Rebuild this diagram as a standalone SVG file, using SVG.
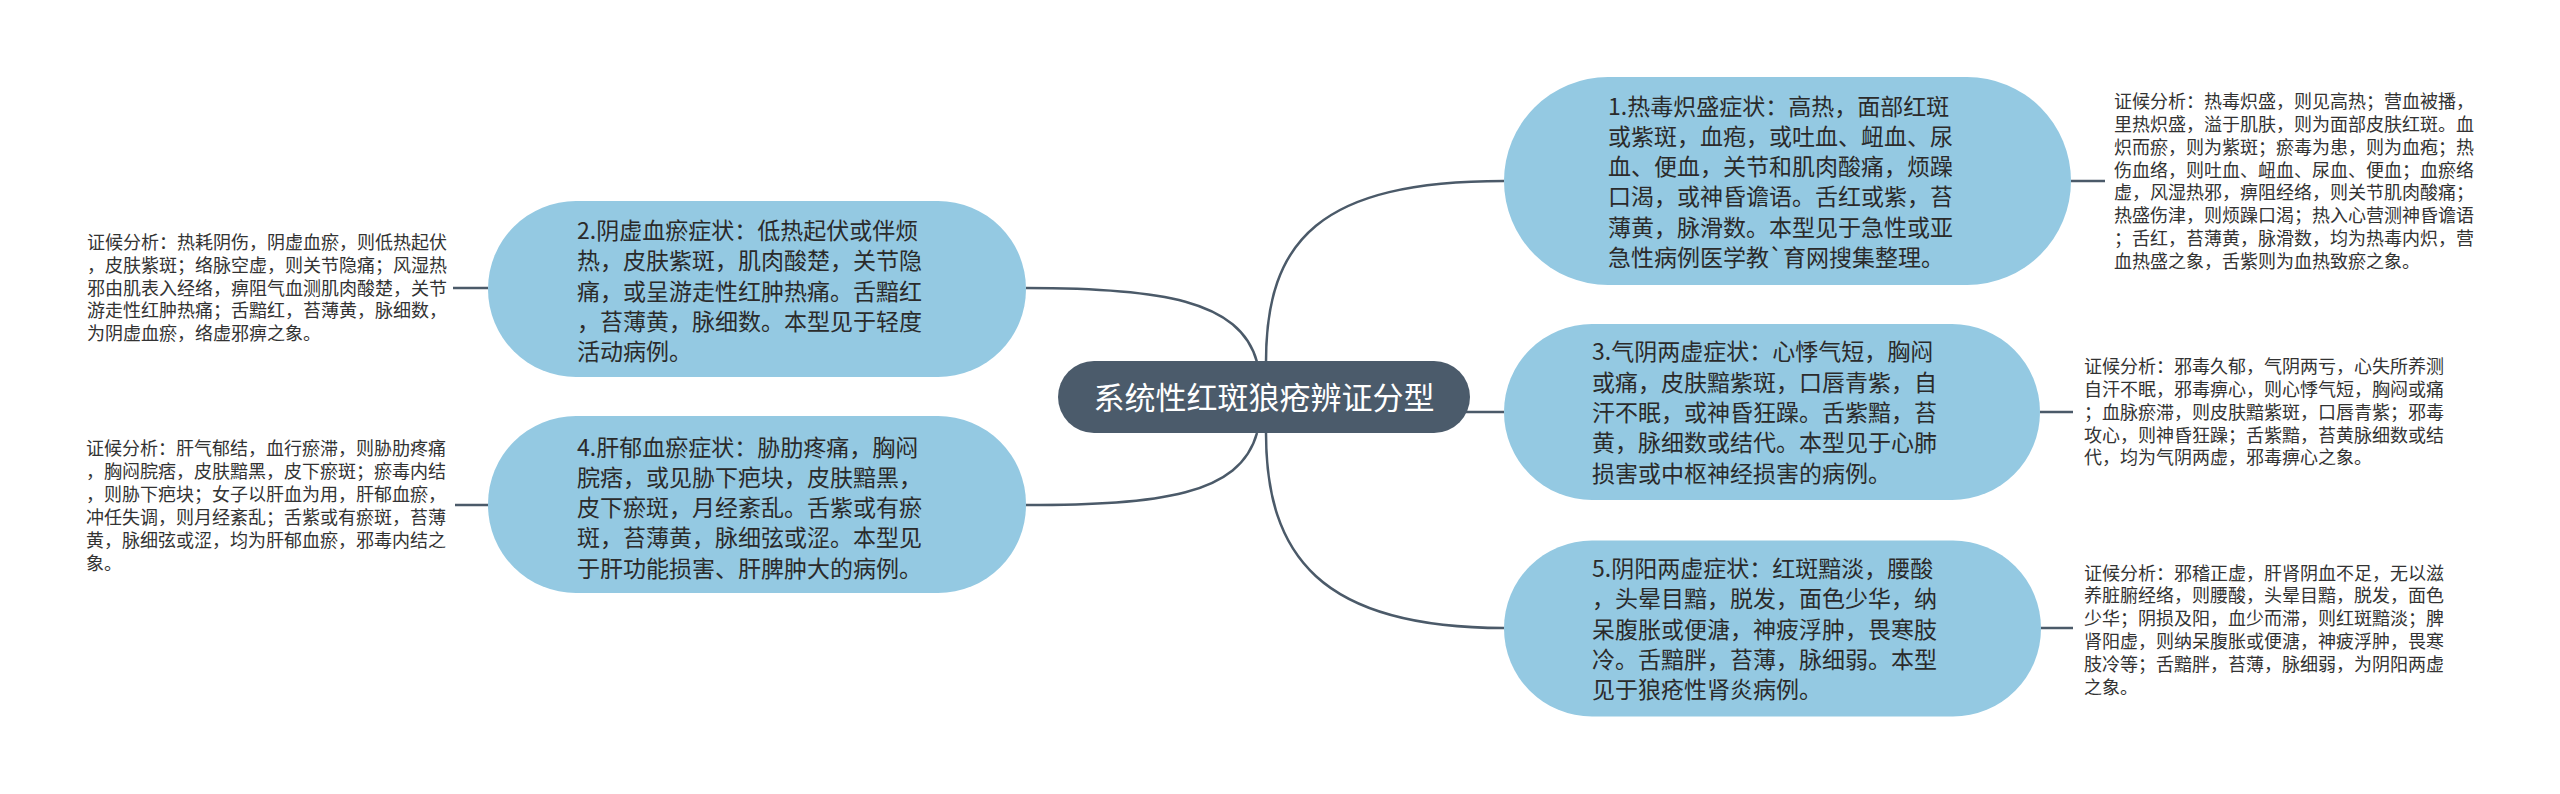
<svg xmlns="http://www.w3.org/2000/svg" width="2560" height="794" viewBox="0 0 2560 794">
<style>
.bg{fill:#ffffff}
.conn{fill:none;stroke:#4b5a69;stroke-width:2.5}
.pill{fill:#94c9e2}
.root{fill:#4b5b6b}
.rt{font-family:"Noto Sans CJK SC","Noto Sans",sans-serif;font-size:31px;fill:#ffffff;text-anchor:middle}
.nt{font-family:"Noto Sans CJK SC","Noto Sans",sans-serif;font-size:23px;fill:#2b2b2b}
.at{font-family:"Noto Sans CJK SC","Noto Sans",sans-serif;font-size:18px;fill:#333333}
</style>
<rect class="bg" x="0" y="0" width="2560" height="794"/>
<g id="connectors">
<path class="conn" d="M1266,362 C1266,240 1320,181 1504,181"/>
<path class="conn" d="M1266,433 C1266,555 1320,628 1504,628"/>
<path class="conn" d="M1257,362 C1240,300 1160,288 1026,288"/>
<path class="conn" d="M1257,433 C1240,495 1160,505 1026,505"/>
<path class="conn" d="M1460,412 L1504,412"/>
<path class="conn" d="M2071,181 L2105,181"/>
<path class="conn" d="M2040,412 L2073,412"/>
<path class="conn" d="M2041,628 L2073,628"/>
<path class="conn" d="M453,288 L488,288"/>
<path class="conn" d="M455,505 L488,505"/>
</g>
<g id="root">
<rect class="root" x="1058" y="361" width="412" height="72" rx="36"/>
<text class="rt" x="1264" y="409">系统性红斑狼疮辨证分型</text>
</g>
<g id="node1">
<rect class="pill" x="1504" y="77" width="567" height="208" rx="104"/>
<text class="nt"><tspan x="1608" y="114.5">1.热毒炽盛症状：高热，面部红斑</tspan><tspan x="1608" y="144.8">或紫斑，血疱，或吐血、衄血、尿</tspan><tspan x="1608" y="175.1">血、便血，关节和肌肉酸痛，烦躁</tspan><tspan x="1608" y="205.4">口渴，或神昏谵语。舌红或紫，苔</tspan><tspan x="1608" y="235.7">薄黄，脉滑数。本型见于急性或亚</tspan><tspan x="1608" y="266">急性病例医学教`育网搜集整理。</tspan></text>
</g>
<g id="note1">
<text class="at"><tspan x="2114" y="107.8">证候分析：热毒炽盛，则见高热；营血被播，</tspan><tspan x="2114" y="130.7">里热炽盛，溢于肌肤，则为面部皮肤红斑。血</tspan><tspan x="2114" y="153.6">炽而瘀，则为紫斑；瘀毒为患，则为血疱；热</tspan><tspan x="2114" y="176.5">伤血络，则吐血、衄血、尿血、便血；血瘀络</tspan><tspan x="2114" y="199.4">虚，风湿热邪，痹阻经络，则关节肌肉酸痛；</tspan><tspan x="2114" y="222.3">热盛伤津，则烦躁口渴；热入心营测神昏谵语</tspan><tspan x="2114" y="245.2">；舌红，苔薄黄，脉滑数，均为热毒内炽，营</tspan><tspan x="2114" y="268.1">血热盛之象，舌紫则为血热致瘀之象。</tspan></text>
</g>
<g id="node3">
<rect class="pill" x="1504" y="324" width="536" height="176" rx="88"/>
<text class="nt"><tspan x="1592" y="360.4">3.气阴两虚症状：心悸气短，胸闷</tspan><tspan x="1592" y="390.7">或痛，皮肤黯紫斑，口唇青紫，自</tspan><tspan x="1592" y="421">汗不眠，或神昏狂躁。舌紫黯，苔</tspan><tspan x="1592" y="451.3">黄，脉细数或结代。本型见于心肺</tspan><tspan x="1592" y="481.6">损害或中枢神经损害的病例。</tspan></text>
</g>
<g id="note3">
<text class="at"><tspan x="2084" y="372.8">证候分析：邪毒久郁，气阴两亏，心失所养测</tspan><tspan x="2084" y="395.7">自汗不眠，邪毒痹心，则心悸气短，胸闷或痛</tspan><tspan x="2084" y="418.6">；血脉瘀滞，则皮肤黯紫斑，口唇青紫；邪毒</tspan><tspan x="2084" y="441.5">攻心，则神昏狂躁；舌紫黯，苔黄脉细数或结</tspan><tspan x="2084" y="464.4">代，均为气阴两虚，邪毒痹心之象。</tspan></text>
</g>
<g id="node5">
<rect class="pill" x="1504" y="540.5" width="537" height="176" rx="88"/>
<text class="nt"><tspan x="1592" y="576.9">5.阴阳两虚症状：红斑黯淡，腰酸</tspan><tspan x="1592" y="607.2">，头晕目黯，脱发，面色少华，纳</tspan><tspan x="1592" y="637.5">呆腹胀或便溏，神疲浮肿，畏寒肢</tspan><tspan x="1592" y="667.8">冷。舌黯胖，苔薄，脉细弱。本型</tspan><tspan x="1592" y="698.1">见于狼疮性肾炎病例。</tspan></text>
</g>
<g id="note5">
<text class="at"><tspan x="2084" y="579.5">证候分析：邪稽正虚，肝肾阴血不足，无以滋</tspan><tspan x="2084" y="602.4">养脏腑经络，则腰酸，头晕目黯，脱发，面色</tspan><tspan x="2084" y="625.3">少华；阴损及阳，血少而滞，则红斑黯淡；脾</tspan><tspan x="2084" y="648.2">肾阳虚，则纳呆腹胀或便溏，神疲浮肿，畏寒</tspan><tspan x="2084" y="671.1">肢冷等；舌黯胖，苔薄，脉细弱，为阴阳两虚</tspan><tspan x="2084" y="694">之象。</tspan></text>
</g>
<g id="node2">
<rect class="pill" x="488" y="201" width="538" height="176" rx="88"/>
<text class="nt"><tspan x="577" y="239">2.阴虚血瘀症状：低热起伏或伴烦</tspan><tspan x="577" y="269.3">热，皮肤紫斑，肌肉酸楚，关节隐</tspan><tspan x="577" y="299.6">痛，或呈游走性红肿热痛。舌黯红</tspan><tspan x="577" y="329.9">，苔薄黄，脉细数。本型见于轻度</tspan><tspan x="577" y="360.2">活动病例。</tspan></text>
</g>
<g id="note2">
<text class="at"><tspan x="87" y="248.7">证候分析：热耗阴伤，阴虚血瘀，则低热起伏</tspan><tspan x="87" y="271.6">，皮肤紫斑；络脉空虚，则关节隐痛；风湿热</tspan><tspan x="87" y="294.5">邪由肌表入经络，痹阻气血测肌肉酸楚，关节</tspan><tspan x="87" y="317.4">游走性红肿热痛；舌黯红，苔薄黄，脉细数，</tspan><tspan x="87" y="340.3">为阴虚血瘀，络虚邪痹之象。</tspan></text>
</g>
<g id="node4">
<rect class="pill" x="488" y="416" width="538" height="177" rx="88"/>
<text class="nt"><tspan x="577" y="455.5">4.肝郁血瘀症状：胁肋疼痛，胸闷</tspan><tspan x="577" y="485.8">脘痞，或见胁下疤块，皮肤黯黑，</tspan><tspan x="577" y="516.1">皮下瘀斑，月经紊乱。舌紫或有瘀</tspan><tspan x="577" y="546.4">斑，苔薄黄，脉细弦或涩。本型见</tspan><tspan x="577" y="576.7">于肝功能损害、肝脾肿大的病例。</tspan></text>
</g>
<g id="note4">
<text class="at"><tspan x="86" y="455.3">证候分析：肝气郁结，血行瘀滞，则胁肋疼痛</tspan><tspan x="86" y="478.2">，胸闷脘痞，皮肤黯黑，皮下瘀斑；瘀毒内结</tspan><tspan x="86" y="501.1">，则胁下疤块；女子以肝血为用，肝郁血瘀，</tspan><tspan x="86" y="524">冲任失调，则月经紊乱；舌紫或有瘀斑，苔薄</tspan><tspan x="86" y="546.9">黄，脉细弦或涩，均为肝郁血瘀，邪毒内结之</tspan><tspan x="86" y="569.8">象。</tspan></text>
</g>
</svg>
